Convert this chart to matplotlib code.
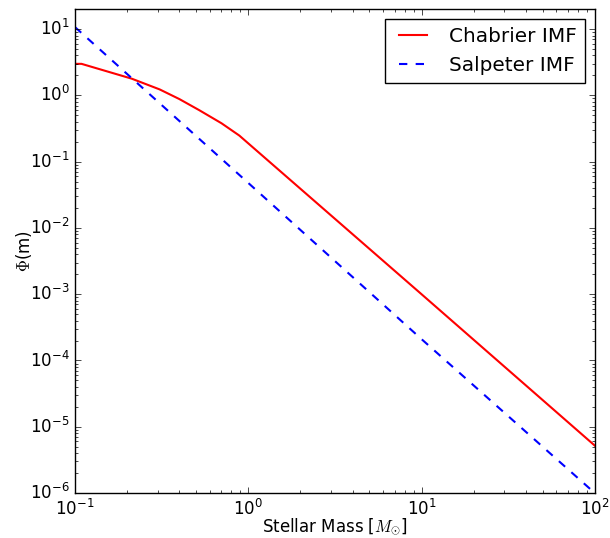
import matplotlib
matplotlib.use("Agg")
import matplotlib.pyplot as plt

plt.style.use('classic')

# Chabrier IMF
chab_m = [0.1, 0.109, 0.212, 0.308, 0.4, 0.52, 0.7, 0.887, 10, 100]
chab_phi = [2.99, 2.99, 1.79, 1.23, 0.88, 0.60, 0.38, 0.248, 1.0e-3, 5.2e-6]

# Salpeter IMF
salp_m = [0.1, 1, 10, 100]
salp_phi = [10.7, 0.0477, 2.1e-4, 1.0e-6]

fig = plt.figure(figsize=(6.1, 5.38), dpi=100, facecolor='white')
ax = fig.add_axes([0.123, 0.0836, 0.852, 0.8994])
ax.plot(chab_m, chab_phi, 'r-', lw=1.5, label='Chabrier IMF')
ax.plot(salp_m, salp_phi, 'b--', lw=1.5, label='Salpeter IMF')
ax.set_xscale('log')
ax.set_yscale('log')
ax.set_xlim(0.1, 100)
ax.set_ylim(1e-6, 20)
ax.set_xlabel(r'Stellar Mass [$M_{\odot}$]', labelpad=-2)
ax.set_ylabel(r'$\Phi$(m)', labelpad=-3)
ax.legend(loc='upper right', fontsize='large')
fig.savefig('out.png', dpi=100, facecolor='white')
